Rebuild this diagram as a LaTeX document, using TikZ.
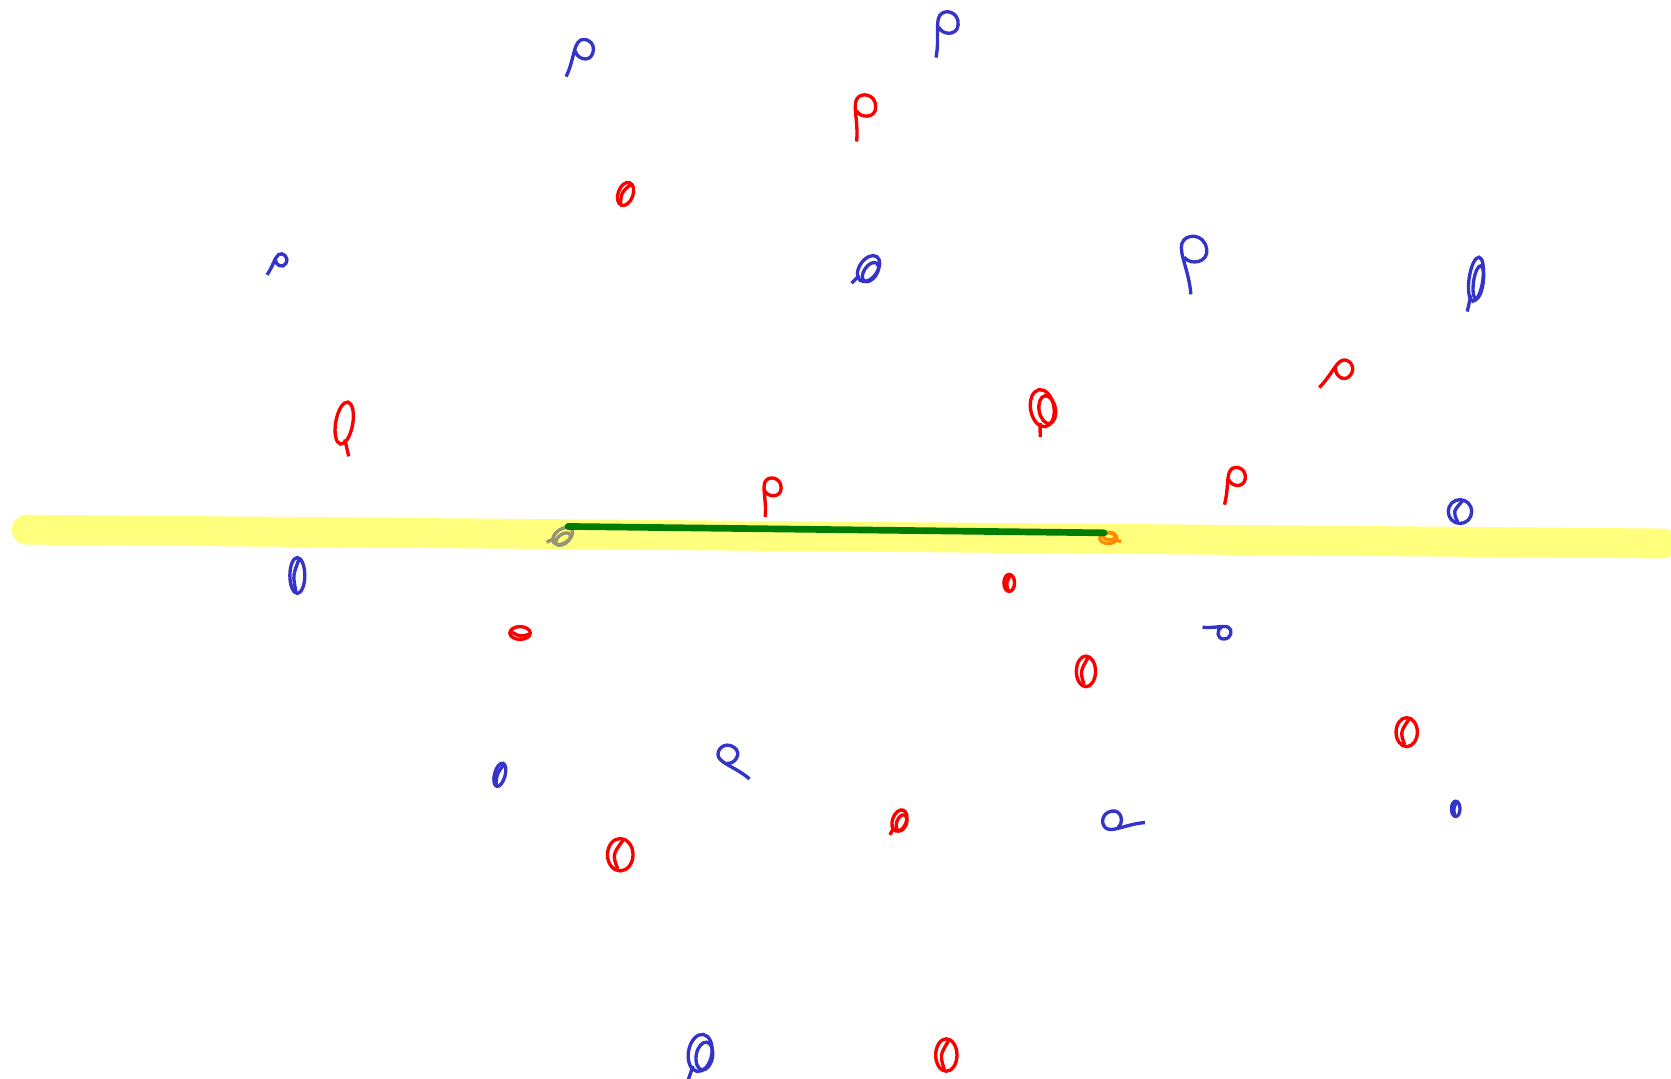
\documentclass[tikz,border=0pt]{standalone}
\definecolor{inkblue}{RGB}{52,52,200}
\definecolor{inkred}{RGB}{250,0,0}
\definecolor{marker}{RGB}{255,255,125}
\definecolor{inkgreen}{RGB}{0,125,0}
\definecolor{inkgray}{RGB}{150,150,115}
\definecolor{inkorange}{RGB}{255,140,0}
\tikzset{every picture/.style={line width=1.9pt}}
\tikzset{
  hook/.pic={\draw (-4,16) .. controls (-3,6) and (-6,-2) .. (-4,-6) .. controls (-2,-10) and (6,-9) .. (6,-2) .. controls (6,4) and (-2,4) .. (-4,0);},
  ring/.pic={\draw (0,0) ellipse (5 and 8); \draw (-1,7) .. controls (-3,0) .. (1,-7);},
  tailring/.pic={\draw (0,0) ellipse (5 and 8); \draw (2,6) -- (6,12);},
  twinring/.pic={\draw (0,0) ellipse (5 and 8); \draw (2,1) ellipse (3.5 and 6); \draw (-2,6) -- (-3,12);}
}
\begin{document}
\begin{tikzpicture}[x=0.021314cm, y=-0.021314cm]
    \useasboundingbox (0,0) rectangle (1568,1012);
    \clip (0,0) rectangle (1568,1012);
    % highlighter stroke and segment
    \coordinate (mleft) at (25,497);
    \coordinate (mright) at (1560,510);
    \draw[color=marker, line width=17pt, line cap=round] (mleft) -- (mright);
    \coordinate (gleft) at (533,494);
    \coordinate (gright) at (1036,500);
    \pic[color=inkgray, rotate=-55, scale=1.3] at (528,503) {twinring};
    \pic[color=inkorange, rotate=90, scale=1.0] at (1040,505) {twinring};
    \draw[color=inkgreen, line width=3.8pt, line cap=round] (gleft) -- (gright);
    % blue scribbles
    \pic[color=inkblue, rotate=-20, scale=1.6] at (546,50) {hook};
    \pic[color=inkblue, rotate=-5, scale=1.8] at (888,26) {hook};
    \pic[color=inkblue, rotate=-30, scale=1.0] at (262,246) {hook};
    \pic[color=inkblue, rotate=-35, scale=1.7] at (815,252) {twinring};
    \pic[color=inkblue, rotate=10, scale=2.2] at (1120,240) {hook};
    \pic[color=inkblue, rotate=-8, xscale=1.3, yscale=2.6] at (1385,262) {twinring};
    \pic[color=inkblue, xscale=2.2, yscale=1.4] at (1370,480) {ring};
    \pic[color=inkblue, xscale=1.4, yscale=2.1] at (279,540) {ring};
    \pic[color=inkblue, rotate=-90, scale=1.1] at (1146,593) {hook};
    \pic[color=inkblue, rotate=-15, xscale=1.0, yscale=1.4] at (469,727) {ring};
    \pic[color=inkblue, rotate=55, scale=1.6] at (686,711) {hook};
    \pic[color=inkblue, rotate=100, scale=1.6] at (1048,770) {hook};
    \pic[color=inkblue, xscale=0.8, yscale=0.9] at (1366,759) {ring};
    \pic[color=inkblue, rotate=-10, scale=2.2] at (657,988) {twinring};
    % red scribbles
    \pic[color=inkred, scale=1.8] at (811,104) {hook};
    \pic[color=inkred, rotate=-20, scale=1.4] at (587,182) {ring};
    \pic[color=inkred, rotate=-10, xscale=1.6, yscale=2.5] at (323,397) {tailring};
    \pic[color=inkred, rotate=10, scale=2.2] at (978,383) {twinring};
    \pic[color=inkred, rotate=-40, scale=1.5] at (1258,349) {hook};
    \pic[color=inkred, rotate=-10, scale=1.5] at (1159,451) {hook};
    \pic[color=inkred, scale=1.5] at (724,461) {hook};
    \pic[color=inkred, scale=1.0] at (947,547) {ring};
    \pic[color=inkred, rotate=90, scale=1.2] at (488,594) {ring};
    \pic[color=inkred, scale=1.8] at (1019,630) {ring};
    \pic[color=inkred, xscale=2.0, yscale=1.7] at (1320,687) {ring};
    \pic[color=inkred, rotate=-20, scale=1.3] at (844,770) {twinring};
    \pic[color=inkred, xscale=2.4, yscale=1.9] at (582,802) {ring};
    \pic[color=inkred, xscale=2.0, yscale=1.9] at (888,990) {ring};
\end{tikzpicture}
\end{document}
